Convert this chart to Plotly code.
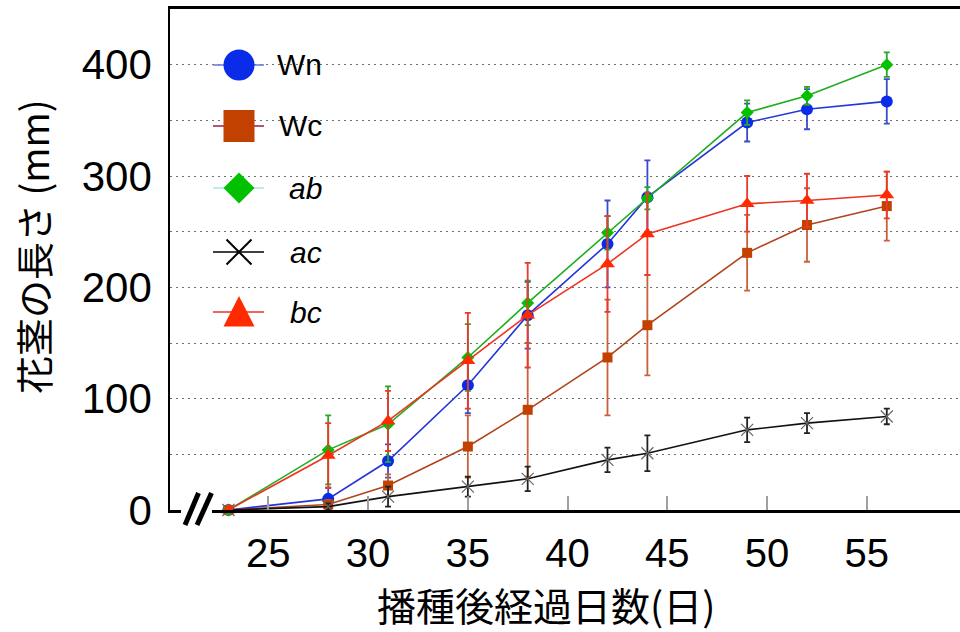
import plotly.graph_objects as go

# Days after sowing
days = [23, 28, 31, 35, 38, 42, 44, 49, 52, 56]

# Mean flower-stalk length (mm) and error for each line
wn = [0, 10, 44, 112, 175, 239, 281, 348, 360, 367]
wn_err = [0, 10, 15, 25, 30, 39, 33, 17, 18, 20]

wc = [0, 5, 22, 57, 90, 137, 166, 231, 256, 273]
wc_err = [0, 4, 10, 28, 60, 52, 45, 34, 33, 31]

ab = [0, 54, 77, 137, 186, 249, 280, 357, 372, 400]
ab_err = [0, 31, 34, 30, 20, 15, 10, 11, 8, 11]

ac = [0, 3, 12, 21, 28, 45, 51, 72, 78, 84]
ac_err = [0, 3, 9, 9, 11, 11, 16, 11, 9, 7]

bc = [0, 49, 80, 134, 175, 221, 248, 275, 278, 283]
bc_err = [0, 29, 27, 43, 47, 43, 37, 25, 24, 21]

x_ticks = [25, 30, 35, 40, 45, 50, 55]
y_grid = [0, 50, 100, 150, 200, 250, 300, 350, 400]
y_labels = ["0", "", "100", "", "200", "", "300", "", "400"]

legend_names = ["Wn", "Wc", "ab", "ac", "bc"]

W, H = 960, 632
L, R, T, B = 170, 0, 9, 122
PW, PH = W - L - R, H - T - B


def px(x):
    return (x - L) / PW


def py(y):
    return (H - B - y) / PH


series = [
    dict(name="Wn", y=wn, e=wn_err, line="#2436d6", mk="#0a2be8", ec="#3a4ad0",
         symbol="circle", size=12),
    dict(name="Wc", y=wc, e=wc_err, line="#b0441c", mk="#c24000", ec="#c8603a",
         symbol="square", size=10),
    dict(name="ab", y=ab, e=ab_err, line="#1fae1f", mk="#00c000", ec="#2aa62a",
         symbol="diamond", size=10),
    dict(name="ac", y=ac, e=ac_err, line="#111111", mk="#666666", ec="#222222",
         symbol="x-thin", size=12),
    dict(name="bc", y=bc, e=bc_err, line="#ee3322", mk="#ff2a00", ec="#e83a2a",
         symbol="triangle-up", size=13),
]

fig = go.Figure()
for s in series:
    marker = dict(symbol=s["symbol"], size=s["size"], color=s["mk"])
    if s["symbol"] == "x-thin":
        marker["line"] = dict(color=s["mk"], width=1.2)
    else:
        marker["line"] = dict(width=0)
    fig.add_trace(go.Scatter(
        x=days, y=s["y"], name=s["name"], mode="lines+markers",
        line=dict(color=s["line"], width=1.6),
        marker=marker,
        error_y=dict(type="data", array=s["e"], visible=True,
                     color=s["ec"], thickness=1.8, width=3),
        cliponaxis=False, showlegend=False,
    ))

shapes = []
# white panel behind the legend (hides the dotted grid there)
shapes.append(dict(type="rect", xref="paper", yref="paper",
                   x0=px(195), x1=px(387), y0=py(370), y1=py(28),
                   fillcolor="white", line=dict(width=0), layer="between"))

# axis break marks on the x axis
shapes.append(dict(type="rect", xref="paper", yref="paper",
                   x0=px(181), x1=px(212), y0=py(515), y1=py(504),
                   fillcolor="white", line=dict(width=0), layer="above"))
for (xa, ya, xb, yb) in [(185, 525, 198.5, 493), (197, 525, 211.5, 493)]:
    shapes.append(dict(type="line", xref="paper", yref="paper",
                       x0=px(xa), y0=py(ya), x1=px(xb), y1=py(yb),
                       line=dict(color="black", width=5), layer="above"))

# legend samples
leg_y = [65, 126, 188, 252, 312]
leg_line = ["#6675dd", "#9a1a55", "#a8e4e4", "#000000", "#ee3322"]
leg_fill = ["#0a2be8", "#c24000", "#00c000", None, "#ff2a00"]
cx = 239
annotations = []
for i, (name, yc) in enumerate(zip(legend_names, leg_y)):
    ax, ay = px(cx), py(yc)
    shapes.append(dict(type="line", xref="paper", yref="paper",
                       xsizemode="pixel", ysizemode="pixel",
                       xanchor=ax, yanchor=ay, x0=-26, x1=25, y0=0, y1=0,
                       line=dict(color=leg_line[i], width=1.5)))
    if name == "Wn":
        shapes.append(dict(type="circle", xref="paper", yref="paper",
                           xsizemode="pixel", ysizemode="pixel",
                           xanchor=ax, yanchor=ay, x0=-15.5, x1=15.5,
                           y0=-15.5, y1=15.5, fillcolor=leg_fill[i],
                           line=dict(width=0)))
    elif name == "Wc":
        shapes.append(dict(type="rect", xref="paper", yref="paper",
                           xsizemode="pixel", ysizemode="pixel",
                           xanchor=ax, yanchor=ay, x0=-15.5, x1=15.5,
                           y0=-16, y1=16, fillcolor=leg_fill[i],
                           line=dict(width=0)))
    elif name == "ab":
        shapes.append(dict(type="path", xref="paper", yref="paper",
                           xsizemode="pixel", ysizemode="pixel",
                           xanchor=ax, yanchor=ay,
                           path="M -15.5,0 L 0,15.5 L 15.5,0 L 0,-15.5 Z",
                           fillcolor=leg_fill[i], line=dict(width=0)))
    elif name == "ac":
        shapes.append(dict(type="path", xref="paper", yref="paper",
                           xsizemode="pixel", ysizemode="pixel",
                           xanchor=ax, yanchor=ay,
                           path="M -12.5,-12.5 L 12.5,12.5 M -12.5,12.5 L 12.5,-12.5",
                           line=dict(color="black", width=2)))
    else:
        shapes.append(dict(type="path", xref="paper", yref="paper",
                           xsizemode="pixel", ysizemode="pixel",
                           xanchor=ax, yanchor=ay,
                           path="M -15.5,-14.5 L 15.5,-14.5 L 0,16 Z",
                           fillcolor=leg_fill[i], line=dict(width=0)))
    italic = name in ("ab", "ac", "bc")
    annotations.append(dict(
        xref="paper", yref="paper", x=px(324), y=ay, xanchor="right",
        yanchor="middle", showarrow=False, text=name,
        font=dict(family="Liberation Sans, Arial, sans-serif", size=30,
                  color="black", style="italic" if italic else "normal"),
    ))

# axis titles
annotations.append(dict(
    xref="paper", yref="paper", x=px(32), y=py(247), textangle=-90,
    xanchor="center", yanchor="middle", showarrow=False,
    text="花茎の長さ (mm)",
    font=dict(family="Noto Sans CJK JP", size=38, color="black"),
))
annotations.append(dict(
    xref="paper", yref="paper", x=px(546), y=py(604),
    xanchor="center", yanchor="middle", showarrow=False,
    text="播種後経過日数(日)",
    font=dict(family="Noto Sans CJK JP", size=39, color="black"),
))

fig.update_layout(
    width=W, height=H,
    margin=dict(l=L, r=R, t=T, b=B, pad=0),
    paper_bgcolor="white", plot_bgcolor="white",
    showlegend=False,
    shapes=shapes, annotations=annotations,
    xaxis=dict(
        range=[20.07, 59.67], tickvals=x_ticks,
        ticktext=[str(v) for v in x_ticks],
        ticks="inside", ticklen=14, tickwidth=1.5, tickcolor="#a0a0a0",
        showgrid=False, zeroline=False,
        showline=True, linecolor="black", linewidth=2.5, mirror=True,
        tickfont=dict(family="Liberation Sans, Arial, sans-serif", size=40,
                      color="black"),
        ticklabelstandoff=6,
    ),
    yaxis=dict(
        range=[0, 450], tickvals=y_grid, ticktext=y_labels,
        ticks="", showgrid=True, gridcolor="#707070", gridwidth=1.3,
        griddash="2px,4px", zeroline=False,
        showline=True, linecolor="black", linewidth=1.5, mirror=False,
        tickfont=dict(family="Liberation Sans, Arial, sans-serif", size=42,
                      color="black"),
        ticklabelstandoff=8,
    ),
)

fig.write_html("out.html")
